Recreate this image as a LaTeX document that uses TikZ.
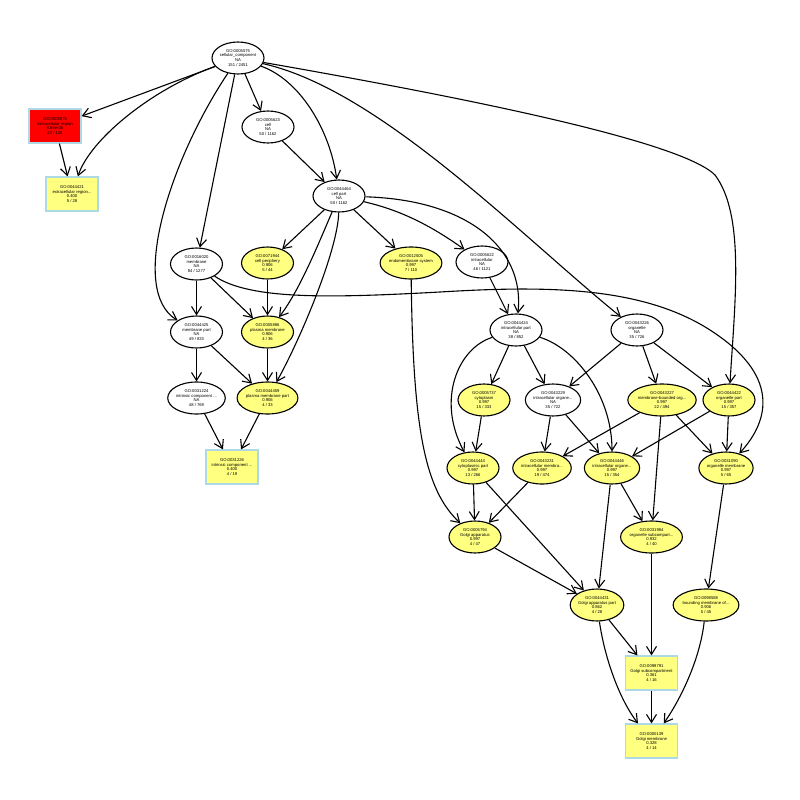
\documentclass[tikz,border=0pt]{standalone}
\usepackage{fontspec}
\setmainfont{Liberation Sans}
\usetikzlibrary{arrows.meta,shapes.geometric}
\definecolor{termyellow}{RGB}{255,255,128}
\definecolor{termred}{RGB}{255,0,0}
\definecolor{boxedge}{RGB}{173,216,230}
\begin{document}
\begin{tikzpicture}[x=1bp,y=-1bp,
  every node/.style={font=\fontsize{4.2}{4.9}\selectfont, align=center, inner sep=0pt},
  term/.style={ellipse, draw=black, line width=1.1bp, minimum width=52bp, minimum height=32bp, fill=white},
  hit/.style={term, fill=termyellow},
  sig/.style={rectangle, draw=boxedge, line width=1.2bp, minimum width=52bp, minimum height=34bp, fill=termyellow},
  sigtop/.style={sig, fill=termred},
  link/.style={line width=1.1bp, -{Straight Barb[length=8bp,width=10bp]}}]
\useasboundingbox (0,0) rectangle (800,800);
\fill[white] (0,0) rectangle (800,800);

% ---- terms ----
\node[term]   (n5575)  at (238,58)  {GO:0005575\\cellular\_component\\NA\\151 / 2451};
\node[sigtop] (n5576)  at (55,126)  {GO:0005576\\extracellular region\\8.86e-05\\23 / 126};
\node[sig]    (n44421) at (72,194)  {GO:0044421\\extracellular region...\\0.400\\5 / 28};
\node[term]   (n5623)  at (268,127) {GO:0005623\\cell\\NA\\50 / 1162};
\node[term]   (n44464) at (339,196) {GO:0044464\\cell part\\NA\\50 / 1162};
\node[term]   (n16020) at (196.5,264) {GO:0016020\\membrane\\NA\\84 / 1277};
\node[hit]    (n71944) at (267.5,263) {GO:0071944\\cell periphery\\0.906\\5 / 44};
\node[hit]    (n12505) at (411,263) {GO:0012505\\endomembrane system\\0.997\\7 / 110};
\node[term]   (n5622)  at (482,262) {GO:0005622\\intracellular\\NA\\46 / 1121};
\node[term]   (n44425) at (196.5,332) {GO:0044425\\membrane part\\NA\\49 / 833};
\node[hit]    (n5886)  at (267.5,332) {GO:0005886\\plasma membrane\\0.906\\4 / 36};
\node[term]   (n44424) at (516,330) {GO:0044424\\intracellular part\\NA\\38 / 852};
\node[term]   (n43226) at (637,330) {GO:0043226\\organelle\\NA\\35 / 726};
\node[term]   (n31224) at (196.5,398) {GO:0031224\\intrinsic component ...\\NA\\48 / 769};
\node[hit]    (n44459) at (267.5,398) {GO:0044459\\plasma membrane part\\0.906\\4 / 33};
\node[hit]    (n5737)  at (484,400) {GO:0005737\\cytoplasm\\0.997\\15 / 333};
\node[term]   (n43229) at (553,400) {GO:0043229\\intracellular organe...\\NA\\35 / 722};
\node[hit]    (n43227) at (662,400) {GO:0043227\\membrane-bounded org...\\0.997\\22 / 494};
\node[hit]    (n44422) at (729,400) {GO:0044422\\organelle part\\0.997\\15 / 357};
\node[sig]    (n31226) at (232,467) {GO:0031226\\intrinsic component ...\\0.400\\4 / 19};
\node[hit]    (n44444) at (473,468) {GO:0044444\\cytoplasmic part\\0.997\\13 / 266};
\node[hit]    (n43231) at (542,468) {GO:0043231\\intracellular membra...\\0.997\\19 / 474};
\node[hit]    (n44446) at (612,468) {GO:0044446\\intracellular organe...\\0.997\\15 / 354};
\node[hit]    (n31090) at (726,468) {GO:0031090\\organelle membrane\\0.997\\5 / 65};
\node[hit]    (n5794)  at (475,537) {GO:0005794\\Golgi apparatus\\0.997\\4 / 47};
\node[hit]    (n31984) at (651.5,537) {GO:0031984\\organelle subcompart...\\0.932\\4 / 40};
\node[hit]    (n44431) at (597,605) {GO:0044431\\Golgi apparatus part\\0.862\\4 / 28};
\node[hit]    (n98588) at (706,605) {GO:0098588\\bounding membrane of...\\0.906\\5 / 45};
\node[sig]    (n98791) at (651.5,673) {GO:0098791\\Golgi subcompartment\\0.361\\4 / 16};
\node[sig]    (n139)   at (651.5,741) {GO:0000139\\Golgi membrane\\0.328\\4 / 14};

% ---- relations ----
\draw[link] (n5575) -- (n5576);
\draw[link] (n5575) .. controls (150,90) and (90,140) .. (n44421);
\draw[link] (n5576) -- (n44421);
\draw[link] (n5575) -- (n5623);
\draw[link] (n5575) .. controls (300,80) and (330,130) .. (n44464);
\draw[link] (n5623) -- (n44464);
\draw[link] (n5575) -- (n16020);
\draw[link] (n5575) .. controls (170,160) and (128,290) .. (n44425);
\draw[link] (n5575) .. controls (380,90) and (520,235) .. (n43226);
\draw[link] (n5575) .. controls (450,95) and (680,140) .. (715,175) .. controls (745,215) and (735,300) .. (n44422);

\draw[link] (n44464) -- (n71944);
\draw[link] (n44464) .. controls (320,240) and (300,290) .. (n5886);
\draw[link] (n44464) .. controls (338,250) and (300,340) .. (n44459);
\draw[link] (n44464) -- (n12505);
\draw[link] (n44464) .. controls (400,210) and (430,225) .. (n5622);
\draw[link] (n44464) .. controls (470,200) and (525,250) .. (n44424);

\draw[link] (n16020) -- (n44425);
\draw[link] (n16020) -- (n5886);
\draw[link] (n16020) .. controls (250,300) and (330,298) .. (440,292)
                     .. controls (540,286) and (640,285) .. (710,330)
                     .. controls (780,375) and (770,420) .. (n31090);
\draw[link] (n71944) -- (n5886);
\draw[link] (n44425) -- (n31224);
\draw[link] (n44425) -- (n44459);
\draw[link] (n5886) -- (n44459);
\draw[link] (n31224) -- (n31226);
\draw[link] (n44459) -- (n31226);

\draw[link] (n12505) .. controls (413,430) and (425,490) .. (n5794);
\draw[link] (n5622) -- (n44424);
\draw[link] (n44424) -- (n5737);
\draw[link] (n44424) -- (n43229);
\draw[link] (n44424) .. controls (458,348) and (436,400) .. (n44444);
\draw[link] (n44424) .. controls (575,348) and (612,395) .. (n44446);
\draw[link] (n43226) -- (n43229);
\draw[link] (n43226) -- (n43227);
\draw[link] (n43226) -- (n44422);

\draw[link] (n5737) -- (n44444);
\draw[link] (n43229) -- (n43231);
\draw[link] (n43229) -- (n44446);
\draw[link] (n43227) -- (n43231);
\draw[link] (n43227) -- (n31090);
\draw[link] (n43227) -- (n31984);
\draw[link] (n44422) -- (n44446);
\draw[link] (n44422) -- (n31090);

\draw[link] (n44444) -- (n5794);
\draw[link] (n44444) -- (n44431);
\draw[link] (n43231) -- (n5794);
\draw[link] (n44446) -- (n44431);
\draw[link] (n44446) -- (n31984);
\draw[link] (n31090) -- (n98588);
\draw[link] (n5794) -- (n44431);
\draw[link] (n31984) -- (n98791);
\draw[link] (n44431) -- (n98791);
\draw[link] (n44431) .. controls (605,660) and (620,700) .. (n139);
\draw[link] (n98588) .. controls (700,660) and (680,700) .. (n139);
\draw[link] (n98791) -- (n139);
\end{tikzpicture}
\end{document}
